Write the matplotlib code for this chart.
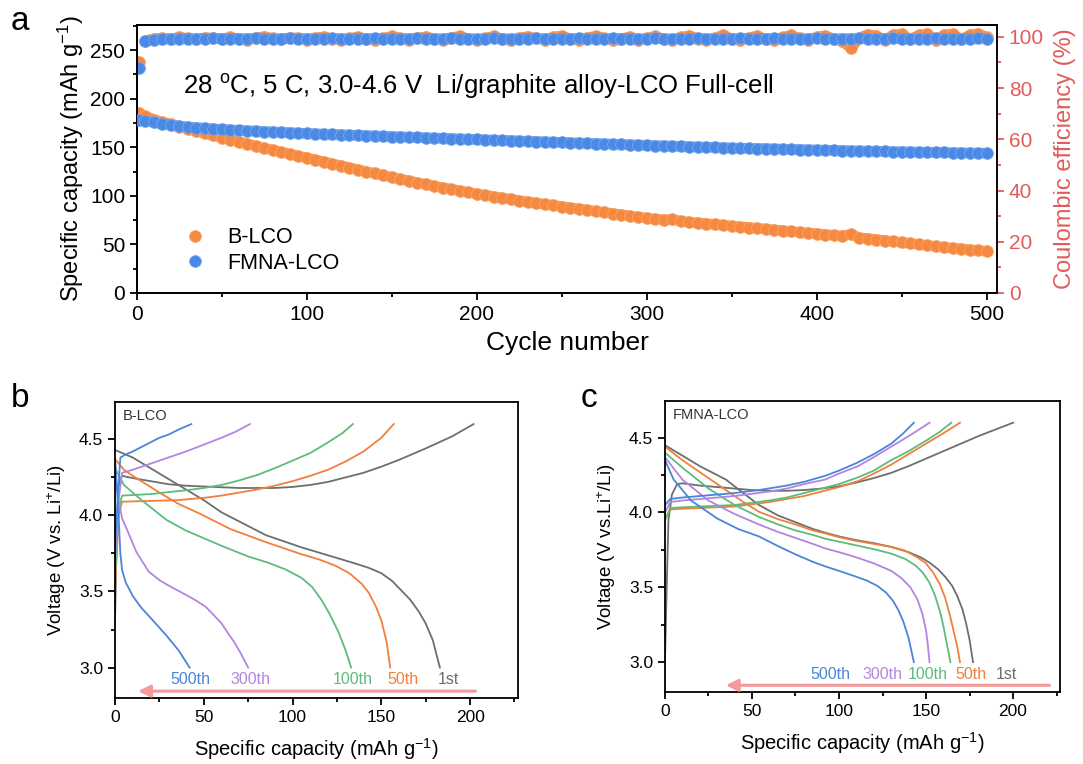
#********************************** Librerias ****************************************
import numpy as np
import matplotlib
matplotlib.use('Agg')
import matplotlib.pyplot as plt
from matplotlib.ticker import MultipleLocator

plt.rcParams['font.family'] = ['Liberation Sans', 'DejaVu Sans']
plt.rcParams['mathtext.fontset'] = 'custom'
plt.rcParams['mathtext.rm'] = 'Liberation Sans'
plt.rcParams['mathtext.it'] = 'Liberation Sans:italic'
plt.rcParams['mathtext.default'] = 'regular'

#******************************* Datos *****************************************

# (a) capacidad y eficiencia coulombica, cada 5 ciclos
cycles = np.r_[1, np.arange(5, 501, 5)]

cap_blco = [185, 182, 178.5, 176, 173.5, 171, 168.8, 166.5, 164.3, 162.1, 160,
            157.8, 155.6, 153.4, 151.2, 149, 147, 145, 143, 141, 139,
            137, 135, 133, 131, 129, 127, 125, 123, 121, 119,
            117.2, 115.4, 113.6, 111.8, 110, 108.4, 106.8, 105.2, 103.6, 102,
            100.6, 99.2, 97.8, 96.4, 95, 93.8, 92.6, 91.4, 90.2, 89,
            87.8, 86.6, 85.4, 84.2, 83, 81.8, 80.6, 79.4, 78.2, 77,
            76.2, 75.4, 75.8, 73.8, 73, 72.2, 71.4, 70.6, 69.8, 69,
            68.2, 67.4, 66.6, 65.8, 65, 64.2, 63.4, 62.6, 61.8, 61,
            60.2, 59.4, 58.6, 60.5, 57, 56, 55, 54, 53, 52,
            51, 50, 49, 48, 47, 46.2, 45.4, 44.6, 43.8, 43]

cap_fmna = [178, 177, 175.5, 174, 172.8, 171.8, 171, 170.3, 169.6, 169, 168.4,
            167.9, 167.4, 167, 166.6, 166.2, 165.8, 165.4, 165, 164.6, 164.2,
            163.9, 163.6, 163.2, 162.9, 162.6, 162.3, 162, 161.6, 161.3, 161,
            160.7, 160.4, 160.1, 159.8, 159.5, 159.2, 158.9, 158.6, 158.3, 158,
            157.7, 157.4, 157.1, 156.8, 156.5, 156.2, 155.9, 155.6, 155.3, 155,
            154.7, 154.4, 154.1, 153.8, 153.5, 153.2, 152.9, 152.6, 152.3, 152,
            151.7, 151.5, 151.2, 150.9, 150.6, 150.4, 150.1, 149.8, 149.6, 149.3,
            149.1, 148.9, 148.7, 148.5, 148.3, 148.1, 147.8, 147.6, 147.4, 147.2,
            147, 146.8, 146.6, 146.4, 146.2, 146.1, 145.9, 145.7, 145.5, 145.3,
            145.2, 145, 144.9, 144.7, 144.6, 144.4, 144.3, 144.1, 144, 143.8]

ce_blco = [90, 98.5, 99.3, 99.6, 99.2, 99.8, 99.4, 99.1, 99.7, 99.5, 99.3,
           99.8, 99.2, 98.9, 99.6, 100.1, 99.4, 99.0, 99.7, 99.5, 98.9,
           99.6, 100.0, 99.3, 98.8, 99.5, 99.9, 99.2, 98.7, 99.4, 100.2,
           99.5, 98.8, 99.6, 100.0, 99.3, 98.9, 99.7, 100.3, 99.2, 98.7,
           99.5, 100.2, 99.0, 98.6, 99.6, 100.1, 99.4, 98.8, 99.9, 100.4,
           99.2, 98.7, 99.7, 100.3, 99.5, 98.7, 99.3, 100.0, 98.7, 99.4,
           100.3, 99.1, 98.6, 99.8, 100.5, 99.3, 98.7, 99.6, 100.7, 99.2,
           98.6, 99.7, 100.4, 99.0, 98.6, 99.8, 100.6, 99.4, 98.8, 99.9,
           100.5, 99.2, 98.5, 95.5, 99.6, 100.9, 100.4, 98.8, 100.7, 101.1,
           99.1, 100.6, 101.2, 98.7, 100.8, 101.1, 99.0, 100.7, 101.3, 99.8]

ce_fmna = [88, 98.2, 98.8, 99.1, 99.2, 99.3, 99.3, 99.2, 99.3, 99.4, 99.3,
           99.2, 99.3, 99.3, 99.4, 99.3, 99.2, 99.3, 99.4, 99.3, 99.3,
           99.2, 99.3, 99.4, 99.3, 99.2, 99.3, 99.3, 99.4, 99.3, 99.2,
           99.3, 99.3, 99.4, 99.3, 99.2, 99.3, 99.4, 99.3, 99.3, 99.2,
           99.3, 99.4, 99.3, 99.2, 99.3, 99.3, 99.4, 99.3, 99.2, 99.3,
           99.3, 99.4, 99.3, 99.2, 99.3, 99.4, 99.3, 99.3, 99.2, 99.3,
           99.4, 99.3, 99.2, 99.3, 99.3, 99.4, 99.3, 99.2, 99.3, 99.3,
           99.4, 99.3, 99.2, 99.3, 99.4, 99.3, 99.3, 99.2, 99.3, 99.4,
           99.3, 99.2, 99.3, 99.3, 99.4, 99.3, 99.2, 99.3, 99.4, 99.3,
           99.3, 99.2, 99.3, 99.4, 99.3, 99.2, 99.3, 99.3, 99.4, 99.3]

# (b) B-LCO curvas de carga / descarga  (capacidad, voltaje)
blco_labels = ['1st', '50th', '100th', '300th', '500th']
blco_charge_q = [[0, 1, 2, 4, 10, 20, 30, 40, 50, 60, 70, 80, 90, 100, 110, 120, 130, 140, 150, 160, 175, 190, 202],
                 [0, 2, 4, 20, 35, 50, 60, 70, 80, 90, 100, 110, 120, 130, 140, 150, 157],
                 [0, 2, 4, 20, 40, 50, 60, 70, 80, 90, 100, 110, 120, 128, 134],
                 [0, 2, 4, 10, 20, 30, 40, 50, 60, 68, 76],
                 [0, 2, 3, 6, 10, 15, 20, 25, 30, 36, 43]]
blco_charge_v = [[3.3, 3.9, 4.2, 4.26, 4.245, 4.225, 4.205, 4.195, 4.19, 4.185, 4.18, 4.18, 4.18, 4.187, 4.20, 4.22, 4.25, 4.28, 4.32, 4.365, 4.44, 4.52, 4.60],
                 [3.5, 4.0, 4.09, 4.095, 4.10, 4.115, 4.13, 4.15, 4.17, 4.195, 4.225, 4.26, 4.30, 4.355, 4.42, 4.51, 4.60],
                 [3.6, 4.05, 4.13, 4.14, 4.165, 4.18, 4.20, 4.23, 4.265, 4.31, 4.36, 4.41, 4.48, 4.54, 4.60],
                 [3.7, 4.1, 4.28, 4.30, 4.34, 4.38, 4.42, 4.465, 4.51, 4.55, 4.60],
                 [3.8, 4.2, 4.38, 4.40, 4.42, 4.45, 4.48, 4.51, 4.53, 4.565, 4.60]]
blco_dis_q = [[0, 10, 20, 30, 40, 50, 60, 75, 85, 95, 105, 115, 125, 135, 143, 150, 156, 161, 166, 171, 175, 179, 183],
              [0, 5, 10, 25, 35, 48, 65, 86, 105, 115, 124, 132, 139, 143, 147, 150, 153, 155],
              [0, 5, 15, 29, 40, 48, 60, 75, 86, 96, 105, 111, 116, 121, 126, 130, 133],
              [0, 2, 4, 7, 12, 19, 25, 30, 38, 45, 51, 56, 60, 64, 67, 71, 75],
              [0, 1, 2, 3, 4, 6, 10, 15, 19, 24, 29, 36, 42]]
blco_dis_v = [[4.43, 4.38, 4.31, 4.24, 4.17, 4.10, 4.02, 3.93, 3.87, 3.83, 3.79, 3.755, 3.72, 3.685, 3.655, 3.62, 3.57, 3.51, 3.45, 3.37, 3.29, 3.18, 3.0],
              [4.37, 4.30, 4.26, 4.15, 4.08, 4.01, 3.91, 3.82, 3.745, 3.71, 3.67, 3.62, 3.55, 3.49, 3.40, 3.31, 3.17, 3.0],
              [4.31, 4.20, 4.10, 3.97, 3.90, 3.86, 3.80, 3.73, 3.69, 3.645, 3.59, 3.53, 3.45, 3.35, 3.23, 3.11, 3.0],
              [4.28, 4.10, 3.98, 3.90, 3.76, 3.63, 3.575, 3.54, 3.49, 3.445, 3.40, 3.34, 3.29, 3.22, 3.17, 3.09, 3.0],
              [4.38, 4.2, 4.0, 3.75, 3.64, 3.56, 3.47, 3.39, 3.34, 3.275, 3.21, 3.11, 3.0]]

# (c) FMNA-LCO curvas de carga / descarga
fmna_labels = ['1st', '50th', '100th', '300th', '500th']
fmna_charge_q = [[0, 1, 2, 4, 7, 10, 20, 30, 40, 50, 60, 70, 80, 90, 100, 110, 120, 130, 140, 150, 160, 170, 180, 190, 200],
                 [0, 3, 10, 20, 30, 40, 50, 60, 70, 80, 90, 100, 111, 120, 130, 140, 150, 160, 169.5],
                 [0, 3, 10, 20, 30, 40, 50, 60, 70, 80, 90, 100, 111, 120, 130, 140, 150, 158, 164.5],
                 [0, 3, 10, 20, 30, 40, 50, 60, 70, 80, 92, 100, 111, 120, 130, 140, 152],
                 [0, 3, 10, 20, 30, 40, 54, 62, 70, 80, 92, 100, 110, 120, 130, 137, 143]]
fmna_charge_v = [[3.0, 3.5, 3.95, 4.12, 4.19, 4.195, 4.18, 4.17, 4.16, 4.15, 4.145, 4.145, 4.15, 4.16, 4.175, 4.20, 4.23, 4.265, 4.31, 4.36, 4.41, 4.46, 4.51, 4.555, 4.60],
                 [3.95, 4.02, 4.025, 4.03, 4.035, 4.04, 4.055, 4.07, 4.09, 4.11, 4.14, 4.17, 4.21, 4.26, 4.32, 4.39, 4.46, 4.53, 4.60],
                 [3.95, 4.03, 4.035, 4.04, 4.045, 4.05, 4.065, 4.08, 4.10, 4.13, 4.16, 4.19, 4.235, 4.28, 4.35, 4.41, 4.48, 4.54, 4.60],
                 [4.0, 4.07, 4.08, 4.09, 4.10, 4.11, 4.125, 4.14, 4.16, 4.19, 4.22, 4.26, 4.31, 4.37, 4.44, 4.51, 4.60],
                 [4.05, 4.09, 4.10, 4.11, 4.12, 4.13, 4.15, 4.165, 4.18, 4.205, 4.245, 4.28, 4.33, 4.39, 4.46, 4.53, 4.60]]
fmna_dis_q = [[0, 10, 20, 35, 45, 54, 65, 75, 85, 92, 100, 110, 120, 130, 140, 147, 152, 157, 161, 165, 168, 171, 173, 175, 177],
              [0, 10, 20, 35, 45, 54, 65, 75, 85, 92, 100, 110, 120, 130, 138, 145, 150, 154, 158, 161, 164, 166, 168, 169.5],
              [0, 10, 25, 40, 54, 65, 75, 85, 92, 100, 110, 120, 130, 138, 144, 148, 152, 155, 158, 160, 162, 164],
              [0, 10, 25, 40, 54, 65, 75, 85, 92, 100, 110, 120, 130, 136, 141, 145, 148, 150, 151, 152],
              [0, 5, 15, 30, 42, 54, 65, 75, 85, 92, 100, 110, 116, 122, 127, 131, 134, 137, 140, 143]]
fmna_dis_v = [[4.45, 4.38, 4.31, 4.22, 4.13, 4.05, 3.98, 3.935, 3.89, 3.865, 3.84, 3.815, 3.795, 3.77, 3.735, 3.70, 3.665, 3.62, 3.57, 3.51, 3.44, 3.35, 3.26, 3.15, 3.0],
              [4.44, 4.35, 4.27, 4.15, 4.07, 4.005, 3.955, 3.92, 3.88, 3.86, 3.835, 3.81, 3.79, 3.77, 3.745, 3.70, 3.66, 3.60, 3.52, 3.43, 3.30, 3.20, 3.10, 3.0],
              [4.40, 4.30, 4.16, 4.05, 3.97, 3.92, 3.88, 3.85, 3.825, 3.805, 3.78, 3.755, 3.725, 3.69, 3.645, 3.60, 3.53, 3.45, 3.34, 3.24, 3.12, 3.0],
              [4.37, 4.22, 4.08, 3.99, 3.92, 3.87, 3.83, 3.79, 3.76, 3.735, 3.70, 3.66, 3.61, 3.56, 3.50, 3.42, 3.32, 3.21, 3.12, 3.0],
              [4.35, 4.22, 4.08, 3.96, 3.89, 3.84, 3.775, 3.72, 3.67, 3.64, 3.61, 3.57, 3.545, 3.51, 3.465, 3.41, 3.35, 3.27, 3.16, 3.0]]

#******************************* Estilo *****************************************

c_orange = '#F5893F'
c_blue = '#4A89E6'
c_red = '#E35B5B'
c_arrow = '#F39A9A'
curve_colors = ['#6E6E6E', '#F0803A', '#5DBB7E', '#B385DE', '#4A86D8']

# Posiciones x de las etiquetas de ciclo
b_label_x = [188, 162, 134, 76.5, 42.5]
c_label_x = [196, 176, 151, 125, 95]


def style_axes(ax, lw=1.3):
    for s in ax.spines.values():
        s.set_linewidth(lw)
    ax.tick_params(which='major', direction='out', length=5, width=lw)
    ax.tick_params(which='minor', direction='out', length=3, width=lw)


# Serie de puntos densos (banda continua de marcadores, el ciclo 1 suelto)
def plotBand(ax, x, y, color, edge, label=None, z=2):
    ax.plot(x[1:], y[1:], '-', color=color, lw=7.5, solid_capstyle='round', zorder=z)
    ax.plot(x, y, 'o', color=color, ms=8.5, mec=edge, mew=0.6, label=label, zorder=z)


# Dibuja curvas de carga y descarga de un panel
def plotCurves(ax, cq, cv, dq, dv, labels, label_x, arrow_x, name):
    for i in range(len(labels)):
        ax.plot(cq[i], cv[i], color=curve_colors[i], lw=1.3)
        ax.plot(dq[i], dv[i], color=curve_colors[i], lw=1.3)
        ax.text(label_x[i], 2.92, labels[i], color=curve_colors[i], fontsize=11.5,
                ha='center', va='center')
    ax.annotate('', xy=(arrow_x[1], 2.845), xytext=(arrow_x[0], 2.845),
                arrowprops=dict(arrowstyle='-|>', color=c_arrow, lw=2.2,
                                mutation_scale=18, shrinkA=0, shrinkB=0))
    ax.text(0.02, 0.975, name, transform=ax.transAxes, fontsize=10.5,
            ha='left', va='top', color='#333333')
    ax.set_xlim(0, 227)
    ax.set_ylim(2.8, 4.745)
    ax.xaxis.set_major_locator(MultipleLocator(50))
    ax.xaxis.set_minor_locator(MultipleLocator(25))
    ax.yaxis.set_minor_locator(MultipleLocator(0.25))
    ax.set_yticks([3.0, 3.5, 4.0, 4.5])
    ax.tick_params(labelsize=12.5)
    ax.set_xlabel('Specific capacity (mAh g$^{-1}$)', fontsize=14.5, labelpad=8)
    style_axes(ax)


#******************************* Figura *****************************************

fig = plt.figure(figsize=(10.83, 7.64), dpi=100)

# (a)
ax = fig.add_axes([0.1265, 0.6165, 0.794, 0.351])
ax2 = ax.twinx()
plotBand(ax2, cycles, ce_blco, c_orange, '#F8A46C')
plotBand(ax2, cycles, ce_fmna, c_blue, '#78A8EE', z=3)
plotBand(ax, cycles, cap_blco, c_orange, '#F8A46C', label='B-LCO')
plotBand(ax, cycles, cap_fmna, c_blue, '#78A8EE', label='FMNA-LCO', z=3)
ax.set_zorder(ax2.get_zorder() + 1)
ax.patch.set_visible(False)

ax.set_xlim(0, 506)
ax.set_ylim(0, 276)
ax2.set_ylim(0, 104.7)
ax.xaxis.set_major_locator(MultipleLocator(100))
ax.xaxis.set_minor_locator(MultipleLocator(50))
ax.yaxis.set_major_locator(MultipleLocator(50))
ax.yaxis.set_minor_locator(MultipleLocator(25))
ax2.yaxis.set_major_locator(MultipleLocator(20))
ax2.yaxis.set_minor_locator(MultipleLocator(10))
style_axes(ax)
style_axes(ax2)
ax.tick_params(labelsize=15)
ax2.tick_params(labelsize=15, colors=c_red, which='both')
ax2.spines['right'].set_color(c_red)
ax.set_xlabel('Cycle number', fontsize=19, labelpad=5)
ax.set_ylabel('Specific capacity (mAh g$^{-1}$)', fontsize=17, labelpad=3)
ax2.set_ylabel('Coulombic efficiency (%)', fontsize=17, color=c_red, labelpad=7)
ax.text(27, 213, '28 $^{o}$C, 5 C, 3.0-4.6 V  Li/graphite alloy-LCO Full-cell',
        fontsize=18.5, va='center', ha='left')
ax.legend(loc='lower left', bbox_to_anchor=(0.02, 0.0),
          frameon=False, fontsize=15.5, handletextpad=0.5, labelspacing=0.2)

# (b)
axb = fig.add_axes([0.1062, 0.0864, 0.3721, 0.3874])
plotCurves(axb, blco_charge_q, blco_charge_v, blco_dis_q, blco_dis_v,
           blco_labels, b_label_x, (203, 13), 'B-LCO')
axb.set_ylabel('Voltage (V vs. Li$^{+}$/Li)', fontsize=13.5, labelpad=8)

# (c)
axc = fig.add_axes([0.614, 0.0942, 0.3648, 0.3809])
plotCurves(axc, fmna_charge_q, fmna_charge_v, fmna_dis_q, fmna_dis_v,
           fmna_labels, c_label_x, (221, 35), 'FMNA-LCO')
axc.set_ylabel('Voltage (V vs.Li$^{+}$/Li)', fontsize=13.5, labelpad=8)

# Letras de panel
fig.text(0.010, 0.972, 'a', fontsize=24, va='center')
fig.text(0.010, 0.478, 'b', fontsize=24, va='center')
fig.text(0.536, 0.478, 'c', fontsize=24, va='center')

fig.savefig('out.png', dpi=100)
